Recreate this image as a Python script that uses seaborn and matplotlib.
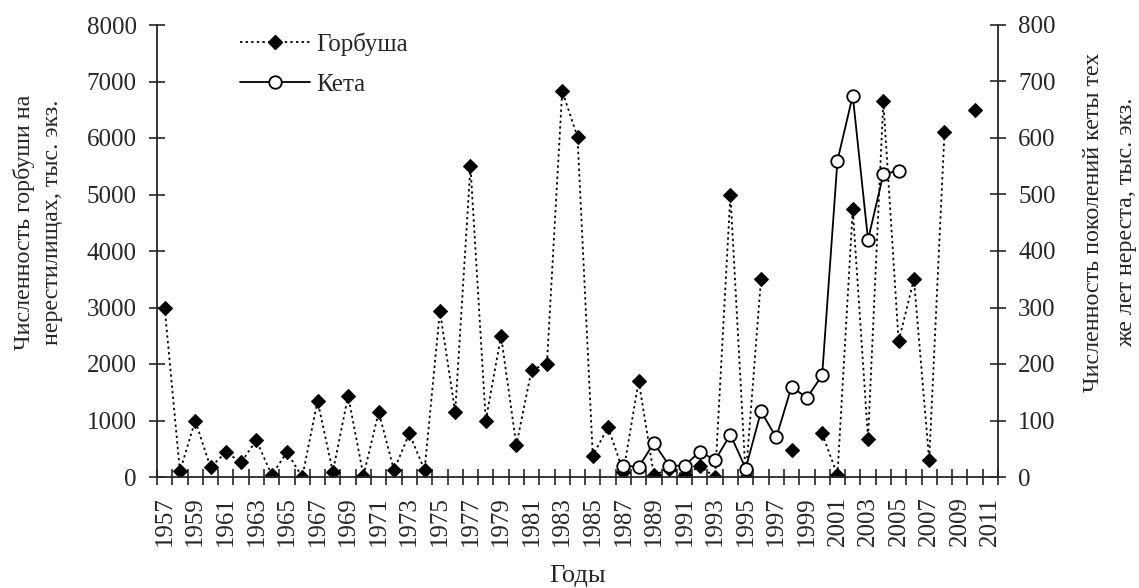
import numpy as np
import pandas as pd
import matplotlib
matplotlib.use("Agg")
import matplotlib.pyplot as plt
import seaborn as sns
from matplotlib.lines import Line2D
from matplotlib.ticker import FixedLocator

nan = np.nan
years = list(range(1957, 2012))
gorbusha = [3000, 100, 1000, 170, 440, 260, 650, 35, 440, 0,
            1350, 90, 1440, 20, 1150, 120, 770, 120, 2940, 1150,
            5500, 1000, 2500, 560, 1900, 2000, 6830, 6020, 380, 880,
            90, 1700, 30, 150, 30, 190, 0, 5000, 0, 3500,
            nan, 470, nan, 770, 30, 4740, 680, 6650, 2400, 3500,
            300, 6100, nan, 6500, nan]
keta_years = list(range(1987, 2006))
keta = [20, 18, 60, 20, 20, 45, 30, 75, 15, 116,
        70, 160, 140, 180, 560, 675, 420, 536, 542]
tick_years = list(range(1957, 2012, 2))

sns.set_style("ticks")
plt.rcParams['font.family'] = ['Liberation Serif', 'DejaVu Serif']
FS = 18
plt.rcParams['font.size'] = FS

df_g = pd.DataFrame({"year": years, "value": gorbusha})
df_g["seg"] = df_g["value"].isna().cumsum()
df_g = df_g.dropna()
df_k = pd.DataFrame({"year": keta_years, "value": keta})

fig = plt.figure(figsize=(11.39, 5.88), dpi=100)
ax = fig.add_axes([157/1139, 1-477/588, (998-157)/1139, (477-25)/588])
ax2 = ax.twinx()

dotted = (0, (1.3, 1.8))
sns.lineplot(data=df_g, x="year", y="value", units="seg", estimator=None,
             ax=ax, color="black", linestyle=dotted, linewidth=1.3,
             marker="D", markersize=7.2, markeredgecolor="black",
             markerfacecolor="black", legend=False)
sns.lineplot(data=df_k, x="year", y="value", ax=ax2, color="black",
             linewidth=1.3, marker="o", markersize=9, markerfacecolor="white",
             markeredgecolor="black", markeredgewidth=1.3, legend=False)

ax.set_xlim(1956.5, 2011.5)
ax.set_ylim(0, 8000)
ax2.set_ylim(0, 800)
ax.set_yticks(np.arange(0, 8001, 1000))
ax2.set_yticks(np.arange(0, 801, 100))
ax.set_xticks(tick_years)
ax.set_xticklabels([str(y) for y in tick_years], rotation=90)
ax.xaxis.set_minor_locator(FixedLocator(np.arange(1956.5, 2012, 1.0)))
ax.tick_params(axis="x", which="major", length=0, pad=14, labelsize=FS)
ax.tick_params(axis="x", which="minor", direction="inout", length=11.5, width=1.2)
ax.tick_params(axis="y", direction="inout", length=11, width=1.2, pad=9, labelsize=FS)
ax2.tick_params(axis="y", direction="inout", length=11, width=1.2, pad=9, labelsize=FS)
ax.set_xlabel("")
ax.set_ylabel("")
ax2.set_ylabel("")
for a in (ax, ax2):
    a.spines["top"].set_visible(False)
    for s in ("left", "right", "bottom"):
        a.spines[s].set_linewidth(1.3)
ax.spines["right"].set_visible(False)
ax2.spines["left"].set_visible(False)
ax2.spines["bottom"].set_visible(False)
ax.set_facecolor("white")
ax2.patch.set_visible(False)

fig.text(38/1139, 1-222/588, "Численность горбуши на\nнерестилищах, тыс. экз.",
         rotation=90, ha="center", va="center", linespacing=1.45, fontsize=17.3)
fig.text(1110/1139, 1-222/588, "Численность поколений кеты тех\nже лет нереста, тыс. экз.",
         rotation=90, ha="center", va="center", linespacing=1.8, fontsize=17.3)
fig.text(578/1139, 1-576/588, "Годы", ha="center", va="center", fontsize=19)

handles = [Line2D([], [], color="black", linestyle=dotted, linewidth=1.3,
                  marker="D", markersize=7.2, markerfacecolor="black"),
           Line2D([], [], color="black", linewidth=1.3, marker="o", markersize=9,
                  markerfacecolor="white", markeredgewidth=1.3)]
fig.legend(handles, ["Горбуша", "Кета"], loc="upper left",
           bbox_to_anchor=(227/1139, 1-20/588), bbox_transform=fig.transFigure,
           frameon=False, borderpad=0, handlelength=2.8, handletextpad=0.25,
           labelspacing=0.7, fontsize=FS)

fig.savefig("out.png", dpi=100, facecolor="white")
